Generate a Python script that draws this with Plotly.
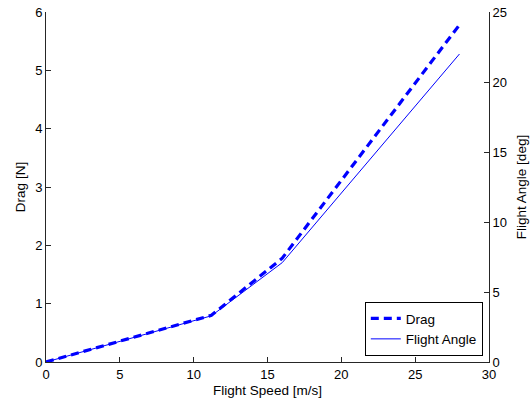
import plotly.graph_objects as go

speed = [0, 11.2, 16.0, 28.0]
drag = [0, 0.80, 1.78, 5.78]
angle = [0, 3.3, 7.1, 22.0]

x_ticks = [0, 5, 10, 15, 20, 25, 30]
drag_ticks = [0, 1, 2, 3, 4, 5, 6]
angle_ticks = [0, 5, 10, 15, 20, 25]

font = "Liberation Sans, Arial, sans-serif"
axcol = "#262626"

fig = go.Figure()
fig.add_trace(go.Scatter(x=speed, y=drag, mode="lines", name="Drag",
                         line=dict(color="#0000ff", width=3.2, dash="8px,5px"), yaxis="y"))
fig.add_trace(go.Scatter(x=speed, y=angle, mode="lines", name="Flight Angle",
                         line=dict(color="#0000ff", width=1), yaxis="y2"))

common = dict(showline=True, linecolor=axcol, linewidth=1, ticks="inside", ticklen=5,
              tickcolor=axcol, tickfont=dict(family=font, size=13, color="#000"),
              showgrid=False, zeroline=False, automargin=False)

fig.update_layout(
    width=532, height=403,
    margin=dict(l=46, r=43, t=12, b=41),
    plot_bgcolor="white", paper_bgcolor="white",
    font=dict(family=font, color="#000"),
    xaxis=dict(range=[0, 30], tickvals=x_ticks, **common,
               title=dict(text="Flight Speed [m/s]", font=dict(size=13.5), standoff=4)),
    yaxis=dict(range=[0, 6], tickvals=drag_ticks, **common,
               title=dict(text="Drag [N]", font=dict(size=13.5), standoff=6)),
    yaxis2=dict(range=[0, 25], tickvals=angle_ticks, overlaying="y", side="right", **common,
                title=dict(text="Flight Angle [deg]", font=dict(size=13.5), standoff=10)),
    showlegend=True,
    legend=dict(x=0.986, y=0.017, xanchor="right", yanchor="bottom",
                bordercolor="#000", borderwidth=1, bgcolor="white",
                font=dict(family=font, size=13.5), tracegroupgap=0,
                itemwidth=30),
)
fig.write_html("out.html")
